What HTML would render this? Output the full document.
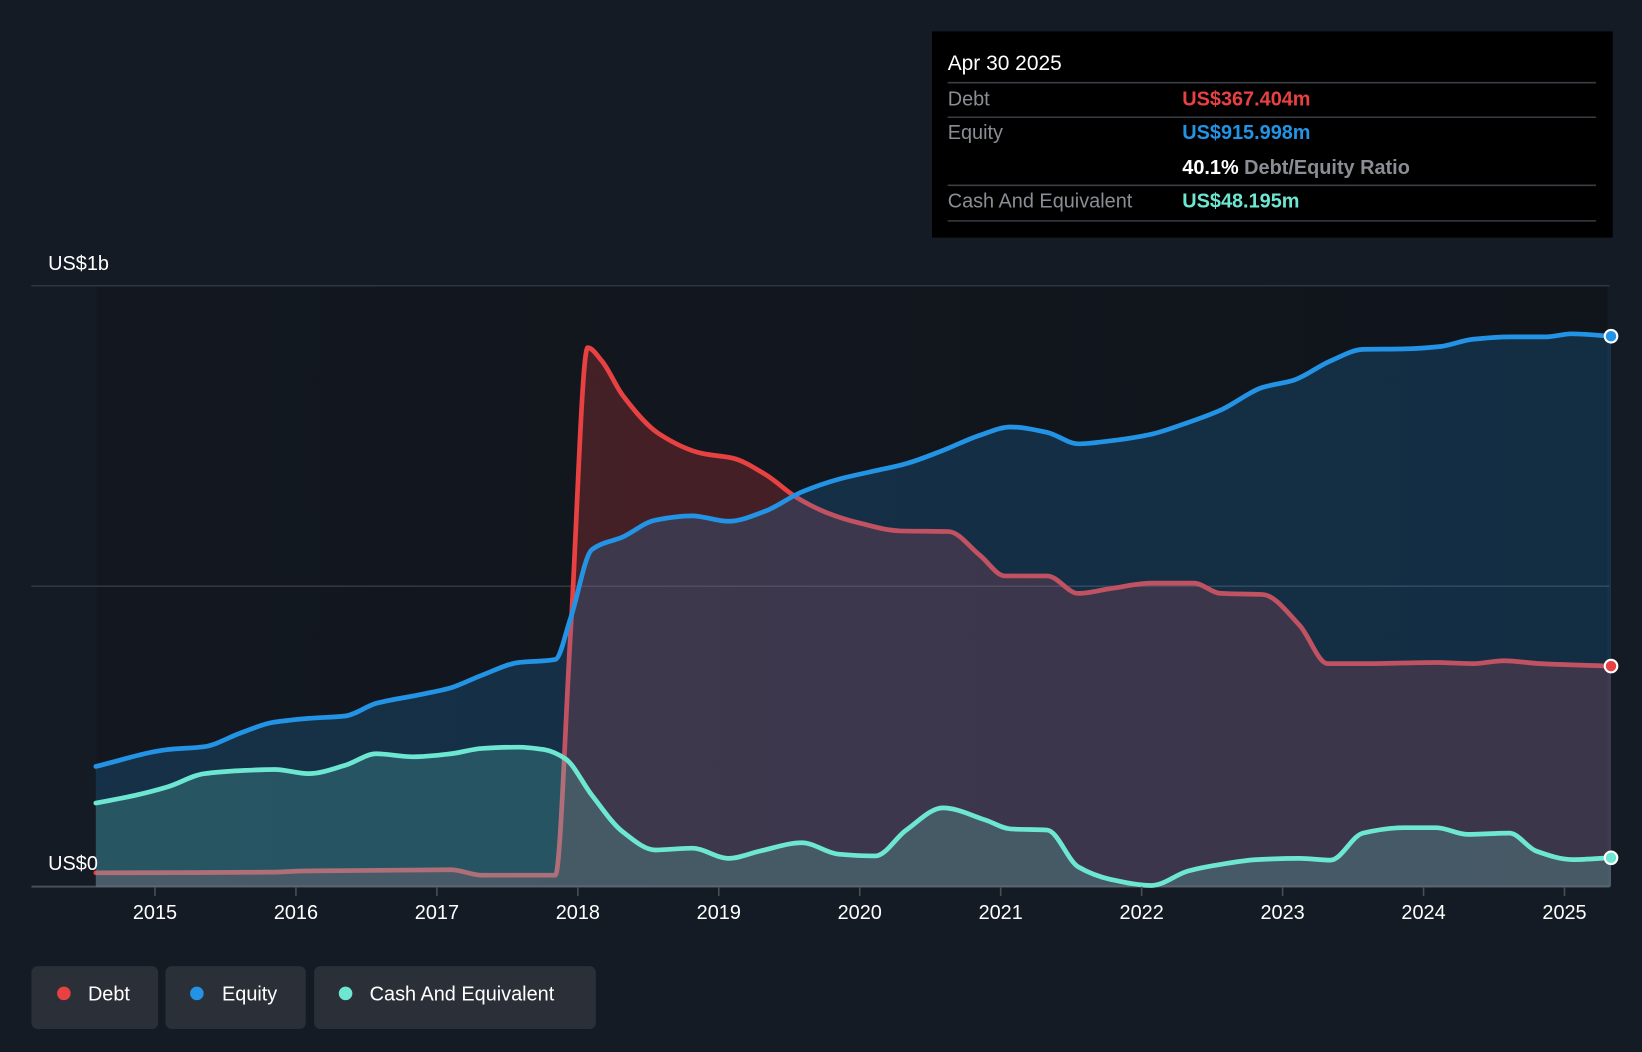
<!DOCTYPE html>
<html><head><meta charset="utf-8"><style>
html,body{margin:0;padding:0;background:#151b24;}
svg{display:block;font-family:"Liberation Sans",sans-serif;}
</style></head><body>
<svg id="chart" width="1642" height="1052" viewBox="0 0 1568 1005" preserveAspectRatio="none">
<defs>
<linearGradient id="bgGrad" x1="0" x2="1" y1="0" y2="0"><stop offset="0" stop-color="#131820"/><stop offset="1" stop-color="#10141b"/></linearGradient>
</defs>
<rect x="0" y="0" width="1568" height="1005" fill="#151b24"/>
<rect x="92" y="273" width="1443" height="574" fill="url(#bgGrad)"/>
<g id="grid"></g>
<g id="areas"></g>
<g id="lines"></g>
<text x="46" y="258" fill="#fff" font-size="19">US$1b</text>
<text x="46" y="831" fill="#fff" font-size="19">US$0</text>
<g id="xaxis"></g>

<g>
<rect x="890" y="30" width="650" height="197" fill="#000"/>
<text x="905" y="67" fill="#fff" font-size="20">Apr 30 2025</text>
<line x1="905" y1="79" x2="1524" y2="79" stroke="#3a3d44" stroke-width="1.5"/>
<text x="905" y="101" fill="#8a8d93" font-size="19">Debt</text>
<text x="1129" y="101" fill="#e84142" font-size="19" font-weight="bold">US$367.404m</text>
<line x1="905" y1="112" x2="1524" y2="112" stroke="#3a3d44" stroke-width="1.5"/>
<text x="905" y="133" fill="#8a8d93" font-size="19">Equity</text>
<text x="1129" y="133" fill="#2394e5" font-size="19" font-weight="bold">US$915.998m</text>
<text x="1129" y="166" fill="#fff" font-size="19" font-weight="bold">40.1% <tspan fill="#8a8d93">Debt/Equity Ratio</tspan></text>
<line x1="905" y1="177" x2="1524" y2="177" stroke="#3a3d44" stroke-width="1.5"/>
<text x="905" y="198" fill="#8a8d93" font-size="19">Cash And Equivalent</text>
<text x="1129" y="198" fill="#6ee7d2" font-size="19" font-weight="bold">US$48.195m</text>
<line x1="905" y1="211" x2="1524" y2="211" stroke="#3a3d44" stroke-width="1.5"/>
</g>

<g>
<rect x="30" y="923" width="121" height="60" rx="6" fill="#2b2f38"/>
<circle cx="61" cy="949" r="6.5" fill="#e84142"/>
<text x="84" y="956" fill="#fff" font-size="19">Debt</text>
</g>
<g>
<rect x="158" y="923" width="134" height="60" rx="6" fill="#2b2f38"/>
<circle cx="188" cy="949" r="6.5" fill="#2394e5"/>
<text x="212" y="956" fill="#fff" font-size="19">Equity</text>
</g>
<g>
<rect x="300" y="923" width="269" height="60" rx="6" fill="#2b2f38"/>
<circle cx="330" cy="949" r="6.5" fill="#6ee7d2"/>
<text x="353" y="956" fill="#fff" font-size="19">Cash And Equivalent</text>
</g>
</svg>
<script>
const equityDates=[2014.58,2015.09,2015.35,2015.61,2015.83,2016.09,2016.35,2016.57,2016.87,2017.10,2017.32,2017.58,2017.84,2017.95,2018.10,2018.32,2018.55,2018.81,2019.07,2019.33,2019.59,2019.85,2020.07,2020.33,2020.59,2020.85,2021.07,2021.33,2021.55,2021.78,2022.07,2022.30,2022.56,2022.86,2023.08,2023.34,2023.57,2023.86,2024.12,2024.35,2024.61,2024.87,2025.05,2025.33];
const equityValues=[200,228,233,256,273,280,284,305,319,331,352,373,378,448,561,582,610,617,608,625,657,678,690,704,726,751,765,756,737,742,753,770,793,831,843,875,894,895,899,911,915,915,920,916];
const debtDates=[2014.58,2015.83,2016.05,2017.10,2017.32,2017.84,2017.95,2018.07,2018.17,2018.32,2018.58,2018.88,2019.10,2019.33,2019.55,2019.77,2020.00,2020.29,2020.63,2020.85,2021.03,2021.33,2021.55,2021.78,2022.07,2022.37,2022.56,2022.86,2023.12,2023.32,2023.57,2024.09,2024.35,2024.57,2024.83,2025.33];
const debtValues=[23,24,26,28,19,19,430,897,875,817,753,721,713,686,648,622,605,592,591,552,517,517,488,496,505,505,488,486,435,371,371,373,371,376,371,367];
const cashDates=[2014.58,2014.86,2015.09,2015.35,2015.61,2015.85,2016.09,2016.35,2016.57,2016.83,2017.10,2017.32,2017.58,2017.76,2017.91,2018.10,2018.32,2018.55,2018.81,2019.07,2019.29,2019.59,2019.85,2020.11,2020.33,2020.59,2020.89,2021.07,2021.33,2021.55,2021.78,2022.07,2022.33,2022.56,2022.82,2023.12,2023.34,2023.57,2023.86,2024.09,2024.31,2024.61,2024.80,2025.06,2025.33];
const cashValues=[139,152,166,188,193,195,188,202,221,216,221,230,232,228,213,152,91,61,64,47,59,73,54,51,94,131,111,96,94,33,12,2,26,37,45,47,44,89,98,98,87,89,59,45,48];
const yearTicks=[2015,2016,2017,2018,2019,2020,2021,2022,2023,2024,2025];
const gridValues=[0,500,1000];

const NS='http://www.w3.org/2000/svg';
const X0=92,X1=1535,Y0=847,Y1=273;
const xScale=d=>148+(d-2015)*134.6;
const yScale=v=>Y0-(v/1000)*(Y0-Y1);
function mk(tag,attrs,parent){const e=document.createElementNS(NS,tag);for(const k in attrs)e.setAttribute(k,attrs[k]);parent.appendChild(e);return e;}
const grid=document.getElementById('grid'),areas=document.getElementById('areas'),lines=document.getElementById('lines'),xaxis=document.getElementById('xaxis');
gridValues.forEach(v=>{
  const l=mk('line',{x1:30,x2:1537,y1:yScale(v),y2:yScale(v),stroke:v===0?'#4a4e56':'#363b44','stroke-width':v===0?2:1.2},grid);
  
  
});
yearTicks.forEach(y=>{
  const t=mk('line',{x1:xScale(y),x2:xScale(y),y1:847,y2:856,stroke:'#4a4e56','stroke-width':1.5},xaxis);
  
  
  const tx=mk('text',{x:xScale(y),y:878,fill:'#fff','font-size':19,'text-anchor':'middle'},xaxis);
  tx.textContent=y;
  
  
});
function pts(ds,vs){return ds.map((d,i)=>[xScale(d),yScale(vs[i])]);}
// monotone cubic interpolation (Fritsch-Carlson)
function linePath(p){
  const n=p.length;const dx=[],m=[],t=[];
  for(let i=0;i<n-1;i++){dx[i]=p[i+1][0]-p[i][0];m[i]=(p[i+1][1]-p[i][1])/dx[i];}
  t[0]=m[0];t[n-1]=m[n-2];
  for(let i=1;i<n-1;i++){t[i]=(m[i-1]*m[i]<=0)?0:(3*(dx[i-1]+dx[i]))/((2*dx[i]+dx[i-1])/m[i-1]+(dx[i]+2*dx[i-1])/m[i]);}
  let d='M'+p[0][0].toFixed(1)+','+p[0][1].toFixed(1);
  for(let i=0;i<n-1;i++){const h=dx[i]/3;
    d+=` C${(p[i][0]+h).toFixed(1)},${(p[i][1]+t[i]*h).toFixed(1)} ${(p[i+1][0]-h).toFixed(1)},${(p[i+1][1]-t[i+1]*h).toFixed(1)} ${p[i+1][0].toFixed(1)},${p[i+1][1].toFixed(1)}`;}
  return d;
}
function areaPath(p){return linePath(p)+` L${p[p.length-1][0].toFixed(1)},${Y0} L${p[0][0].toFixed(1)},${Y0} Z`;}
const eP=pts(equityDates,equityValues),dP=pts(debtDates,debtValues),cP=pts(cashDates,cashValues);
const dA=mk('path',{d:areaPath(dP),fill:'rgba(232,65,66,0.24)'},areas);


const dL=mk('path',{d:linePath(dP),fill:'none',stroke:'#e84142','stroke-width':4.5,'stroke-linejoin':'round','stroke-linecap':'round'},areas);


const eA=mk('path',{d:areaPath(eP),fill:'rgba(35,148,229,0.2)'},areas);


const cA=mk('path',{d:areaPath(cP),fill:'rgba(110,231,210,0.2)'},areas);


const eL=mk('path',{d:linePath(eP),fill:'none',stroke:'#2394e5','stroke-width':4.5,'stroke-linejoin':'round','stroke-linecap':'round'},lines);


const cL=mk('path',{d:linePath(cP),fill:'none',stroke:'#6ee7d2','stroke-width':4.5,'stroke-linejoin':'round','stroke-linecap':'round'},lines);


[[eP,'#2394e5','equity-end-marker'],[dP,'#e84142','debt-end-marker'],[cP,'#6ee7d2','cash-end-marker']].forEach(([p,c,n])=>{
  const q=p[p.length-1];
  const m=mk('circle',{cx:q[0],cy:q[1],r:6,fill:c,stroke:'#fff','stroke-width':2},lines);
  
  
});
</script>
</body></html>
